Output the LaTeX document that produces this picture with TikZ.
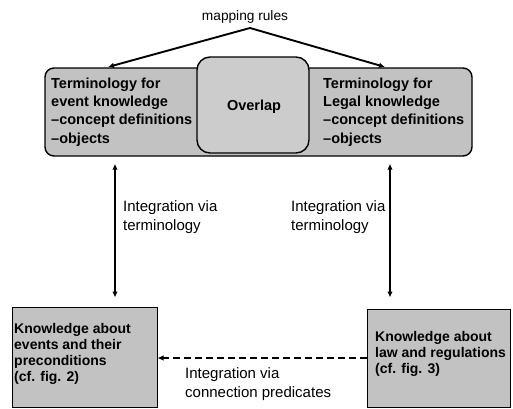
\documentclass[tikz,border=0pt]{standalone}
\usepackage{fontspec}
\setmainfont{Liberation Sans}
\usetikzlibrary{arrows.meta,calc}
\tikzset{
  shade box/.style={draw=black, fill=black!24, inner sep=0pt},
  boxtext/.style={inner sep=0pt, align=left, anchor=north west, font=\fontsize{14.5}{18.3}\selectfont\bfseries},
  lowtext/.style={inner sep=0pt, align=left, anchor=north west, font=\fontsize{14}{16.2}\selectfont\bfseries},
  lbl/.style={inner sep=0pt, align=left, anchor=north west, font=\fontsize{15}{19}\selectfont},
  arr/.style={line width=1.9pt, -{Latex[length=6pt,width=5.5pt]}},
  dblarr/.style={line width=1.9pt, {Latex[length=6pt,width=5.5pt]}-{Latex[length=6pt,width=5.5pt]}},
}
\begin{document}
\begin{tikzpicture}[x=1pt,y=-1pt]
\useasboundingbox (0,0) rectangle (513,408);
% top big rounded box
\node[shade box, line width=1.4pt, rounded corners=9pt, minimum width=427pt, minimum height=88pt] (big) at (258.5,112) {};
\node[shade box, fill=black!20, line width=1.4pt, rounded corners=13pt, minimum width=112pt, minimum height=96pt] (ovl) at (253,105) {};
\node[font=\fontsize{14.5}{18}\selectfont\bfseries, inner sep=0pt] (ovltxt) at (254,107) {Overlap};
\node[boxtext] (ltop) at (51,77.5) {Terminology for\\event knowledge\\--concept definitions\\--objects};
\node[boxtext] (rtop) at (323,77.5) {Terminology for\\Legal knowledge\\--concept definitions\\--objects};
% mapping rules
\node[font=\fontsize{13.7}{16}\selectfont, inner sep=0pt] (map) at (245,17) {mapping rules};
\coordinate (apex) at (250,28);
\coordinate (tipL) at (108,67);
\coordinate (tipR) at (385,67);
\draw[arr] (apex) -- (tipL);
\draw[arr] (apex) -- (tipR);
% bottom boxes
\node[shade box, line width=1pt, minimum width=145pt, minimum height=100pt] (lbox) at (84.5,357) {};
\node[shade box, line width=1pt, minimum width=143pt, minimum height=98pt] (rbox) at (438.5,358) {};
\node[lowtext] (lbtxt) at (14,323) {Knowledge about\\events and their\\preconditions\\(cf. fig. 2)};
\node[lowtext] (rbtxt) at (375,331) {Knowledge about\\law and regulations\\(cf. fig. 3)};
% vertical arrows
\coordinate (axL) at (115,0);
\coordinate (axR) at (390,0);
\draw[dblarr, shorten <=7pt, shorten >=9pt] (big.south -| axL) -- (lbox.north -| axL);
\draw[dblarr, shorten <=7pt, shorten >=11pt] (big.south -| axR) -- (rbox.north -| axR);
\node[lbl] (ilab) at (123,200) {Integration via\\terminology};
\node[lbl] (irab) at (291,200) {Integration via\\terminology};
% dashed arrow
\draw[line width=1.9pt, dash pattern=on 7pt off 4pt, -{Latex[length=6pt,width=5.5pt]}] (rbox.west) -- (rbox.west -| lbox.east);
\node[lbl] (clab) at (185,367) {Integration via\\connection predicates};
\end{tikzpicture}
\end{document}
